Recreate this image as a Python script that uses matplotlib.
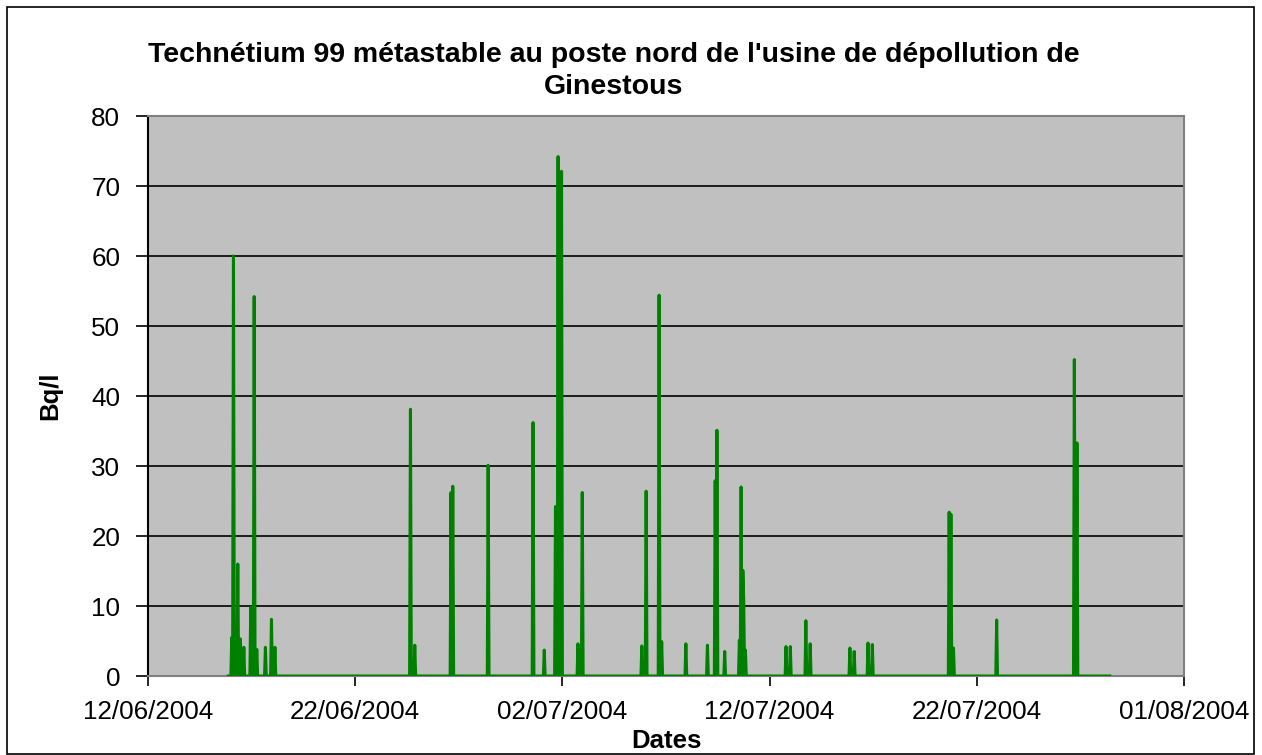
import pandas as pd
import matplotlib
matplotlib.use("Agg")
import matplotlib.pyplot as plt
import matplotlib.dates as mdates
from matplotlib.patches import Rectangle

plt.rcParams['font.family'] = ['Liberation Sans', 'DejaVu Sans']

# first and last measurement of the series
series_start = "2004-06-15 21:00"
series_end = "2004-07-28 10:00"

# hourly measurements that were above zero (Bq/l)
peak_times = [
    "2004-06-16 01:00", "2004-06-16 03:00", "2004-06-16 06:00", "2004-06-16 08:00",
    "2004-06-16 11:00", "2004-06-16 15:00", "2004-06-16 23:00", "2004-06-17 03:00",
    "2004-06-17 06:00", "2004-06-17 16:00", "2004-06-17 23:00", "2004-06-18 03:00",
    "2004-06-24 16:00", "2004-06-24 21:00", "2004-06-26 15:00", "2004-06-26 17:00",
    "2004-06-28 10:00", "2004-06-30 14:00", "2004-07-01 03:00", "2004-07-01 16:00",
    "2004-07-01 19:00", "2004-07-01 23:00", "2004-07-02 18:00", "2004-07-02 23:00",
    "2004-07-05 20:00", "2004-07-06 01:00", "2004-07-06 16:00", "2004-07-06 19:00",
    "2004-07-07 23:00", "2004-07-09 00:00", "2004-07-09 09:00", "2004-07-09 11:00",
    "2004-07-09 20:00", "2004-07-10 13:00", "2004-07-10 15:00", "2004-07-10 17:00",
    "2004-07-10 18:00", "2004-07-10 20:00", "2004-07-12 19:00", "2004-07-13 00:00",
    "2004-07-13 18:00", "2004-07-13 23:00", "2004-07-15 21:00", "2004-07-16 02:00",
    "2004-07-16 18:00", "2004-07-16 23:00", "2004-07-20 16:00", "2004-07-20 18:00",
    "2004-07-20 21:00", "2004-07-22 23:00", "2004-07-26 17:00", "2004-07-26 20:00",
]
peak_values = [
    5.5, 60.0, 4.5, 16.0,
    5.3, 4.1, 9.8, 54.2,
    3.8, 4.1, 8.1, 4.1,
    38.1, 4.4, 26.2, 27.1,
    30.1, 36.2, 3.7, 24.2,
    74.2, 72.1, 4.6, 26.2,
    4.3, 26.4, 54.4, 4.9,
    4.6, 4.4, 27.9, 35.1,
    3.5, 5.1, 27.0, 15.1,
    10.9, 3.7, 4.2, 4.2,
    7.9, 4.6, 4.0, 3.5,
    4.7, 4.5, 23.4, 23.1,
    4.0, 8.0, 45.2, 33.3,
]

tick_dates = ["2004-06-12", "2004-06-22", "2004-07-02", "2004-07-12", "2004-07-22", "2004-08-01"]

# zero readings the hour before and after each non-zero one
one_hour = pd.Timedelta(hours=1)
points = {pd.Timestamp(series_start): 0.0, pd.Timestamp(series_end): 0.0}
for t in peak_times:
    t = pd.Timestamp(t)
    points.setdefault(t - one_hour, 0.0)
    points.setdefault(t + one_hour, 0.0)
for t, v in zip(peak_times, peak_values):
    points[pd.Timestamp(t)] = v
series = pd.Series(points).sort_index()

fig = plt.figure(figsize=(12.62, 7.55), dpi=100)
ax = fig.add_axes([148 / 1262, 1 - 676 / 755, (1184 - 148) / 1262, (676 - 116) / 755])
ax.set_facecolor('#c0c0c0')

ax.plot(series.index, series.values, color='#008000', linewidth=2.2, zorder=3)

ax.set_ylim(0, 80)
ax.set_yticks(range(0, 81, 10))
ax.set_xlim(pd.Timestamp(tick_dates[0]), pd.Timestamp(tick_dates[-1]))
ax.set_xticks([pd.Timestamp(d) for d in tick_dates])
ax.xaxis.set_major_formatter(mdates.DateFormatter('%d/%m/%Y'))

for y in range(10, 80, 10):
    ax.axhline(y, color='black', linewidth=1.2, zorder=1)

for side in ['top', 'right', 'bottom']:
    ax.spines[side].set_color('#808080')
    ax.spines[side].set_linewidth(1.5)
ax.spines['left'].set_color('black')
ax.spines['left'].set_linewidth(1.5)

ax.tick_params(axis='y', direction='out', length=9, width=1.2, labelsize=18.7, pad=11)
ax.tick_params(axis='x', direction='out', length=7, width=1.2, labelsize=18.7, pad=10)

ax.set_ylabel('Bq/l', fontsize=18.5, fontweight='bold', labelpad=21)
ax.set_xlabel('Dates', fontsize=18.5, fontweight='bold', labelpad=4)

fig.text(0.486, 0.906, "Technétium 99 métastable au poste nord de l'usine de dépollution de\nGinestous",
         ha='center', va='center', fontsize=20.5, fontweight='bold', linespacing=1.3)

fig.patches.append(Rectangle((7 / 1262, 1 / 755), 1247 / 1262, 747 / 755, transform=fig.transFigure,
                             fill=False, edgecolor='black', linewidth=1.2))

fig.savefig('out.png', dpi=100)
